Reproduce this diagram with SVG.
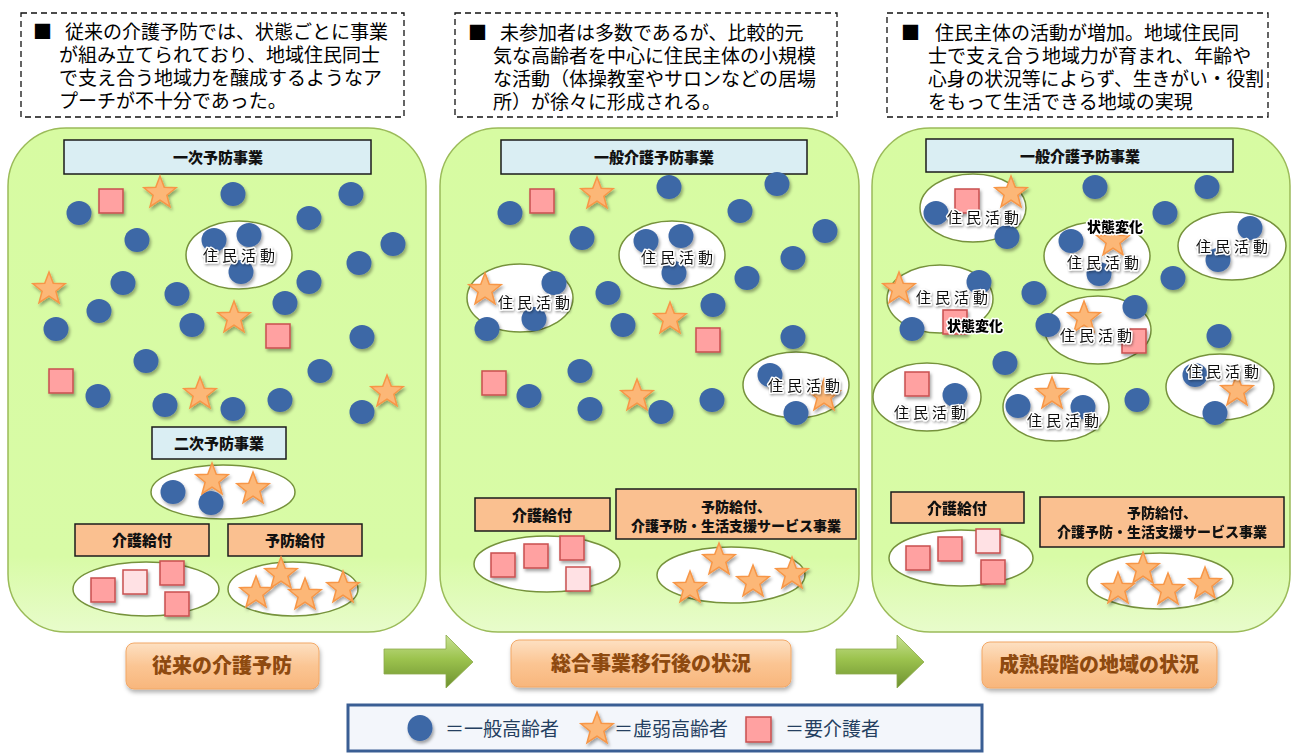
<svg xmlns="http://www.w3.org/2000/svg" xmlns:xlink="http://www.w3.org/1999/xlink" width="1294" height="753" viewBox="0 0 1294 753">
<style>
text{font-family:"Liberation Sans","Noto Sans CJK JP",sans-serif}
.pn{fill:url(#gp);stroke:#9BBB59;stroke-width:1.5}
.tb{fill:#fff;stroke:#111;stroke-width:1.3;stroke-dasharray:6 4}
.tt{font-size:19px;fill:#000}
.bx{font-family:"Noto Sans CJK JP",sans-serif;font-size:19px;fill:#000}
.hd{fill:#DAEEF3;stroke:#1b1b1b;stroke-width:1.5}
.ob{fill:#FAC090;stroke:#1b1b1b;stroke-width:1.5}
.ht{font-weight:900;font-size:15px;text-anchor:middle;dominant-baseline:central;fill:#111}
.ht2{font-weight:900;font-size:14px;text-anchor:middle;dominant-baseline:central;fill:#111}
.el{fill:#fff;stroke:#76923C;stroke-width:1.5}
.rt{font-size:15px;letter-spacing:4px;text-anchor:middle;dominant-baseline:central;fill:#111;stroke:#fff;stroke-width:3;stroke-linejoin:round;paint-order:stroke;filter:url(#tsh)}
.sc{font-size:14px;font-weight:900;text-anchor:middle;dominant-baseline:central;fill:#000;stroke:#fff;stroke-width:3;stroke-linejoin:round;paint-order:stroke}
.sh{filter:url(#ds)}
.lb{fill:url(#go);stroke:#F2A867;stroke-width:1;filter:url(#ds2)}
.lt{font-size:20px;font-weight:900;text-anchor:middle;dominant-baseline:central;fill:#8E4A10}
.ar{fill:url(#ga);stroke:#8DAA4C;stroke-width:0.8}
.lg{font-size:19px;fill:#243F60;dominant-baseline:central}
</style>
<defs>
<linearGradient id="gp" x1="0" y1="0" x2="0" y2="1">
<stop offset="0" stop-color="#D7FBA2"/><stop offset="0.85" stop-color="#D8FBA6"/><stop offset="1" stop-color="#E8FCCB"/>
</linearGradient>
<linearGradient id="go" x1="0" y1="0" x2="0" y2="1">
<stop offset="0" stop-color="#FDE0C2"/><stop offset="0.5" stop-color="#FBC593"/><stop offset="1" stop-color="#F8B67C"/>
</linearGradient>
<linearGradient id="ga" x1="0" y1="0" x2="0" y2="1">
<stop offset="0" stop-color="#C8E294"/><stop offset="0.45" stop-color="#9CC34E"/><stop offset="1" stop-color="#6E9130"/>
</linearGradient>
<filter id="ds" x="-30%" y="-30%" width="170%" height="170%">
<feDropShadow dx="1.5" dy="2.5" stdDeviation="1.5" flood-color="#000" flood-opacity="0.35"/>
</filter>
<filter id="ds2" x="-10%" y="-20%" width="120%" height="150%">
<feDropShadow dx="1" dy="3" stdDeviation="2" flood-color="#000" flood-opacity="0.3"/>
</filter>
<filter id="tsh" x="-10%" y="-30%" width="130%" height="170%">
<feDropShadow dx="1" dy="1.5" stdDeviation="1" flood-color="#000" flood-opacity="0.35"/>
</filter>
<ellipse id="c" cx="0" cy="0" rx="12.5" ry="12" fill="#3D67A6"/>
<path id="s" d="M0,-17 L4.25,-5.84 L16.17,-5.25 L6.87,2.23 L9.99,13.75 L0,7.22 L-9.99,13.75 L-6.87,2.23 L-16.17,-5.25 L-4.25,-5.84 Z" fill="#FCB777" stroke="#F79646" stroke-width="1.5" stroke-linejoin="miter"/>
<rect id="q" x="-12" y="-12" width="24" height="24" fill="#FFA1A1" stroke="#C9504F" stroke-width="1.5"/>
<rect id="ql" x="-12" y="-12" width="24" height="24" fill="#FFE1E4" stroke="#C9504F" stroke-width="1.5"/>
</defs>

<!-- top text boxes -->
<g id="note1">
<rect class="tb" x="21" y="13" width="383" height="104"/>
<text class="bx" x="33" y="39">■</text>
<text class="tt" x="65" y="39">従来の介護予防では、状態ごとに事業</text>
<text class="tt" x="59" y="62">が組み立てられており、地域住民同士</text>
<text class="tt" x="59" y="85">で支え合う地域力を醸成するようなア</text>
<text class="tt" x="59" y="108">プーチが不十分であった。</text>
</g>
<g id="note2">
<rect class="tb" x="455" y="13" width="382" height="104"/>
<text class="bx" x="468" y="40">■</text>
<text class="tt" x="500" y="40">未参加者は多数であるが、比較的元</text>
<text class="tt" x="493" y="63">気な高齢者を中心に住民主体の小規模</text>
<text class="tt" x="493" y="86">な活動（体操教室やサロンなどの居場</text>
<text class="tt" x="493" y="109">所）が徐々に形成される。</text>
</g>
<g id="note3">
<rect class="tb" x="887" y="13" width="381" height="104"/>
<text class="bx" x="901" y="40">■</text>
<text class="tt" x="935" y="40">住民主体の活動が増加。地域住民同</text>
<text class="tt" x="928" y="63">士で支え合う地域力が育まれ、年齢や</text>
<text class="tt" x="928" y="86" textLength="336" lengthAdjust="spacingAndGlyphs">心身の状況等によらず、生きがい・役割</text>
<text class="tt" x="928" y="109">をもって生活できる地域の実現</text>
</g>

<!-- panel 1 -->
<g id="panel1">
<rect class="pn" x="8" y="128" width="418" height="504" rx="58" ry="58"/>
<rect class="hd" x="64" y="140" width="307" height="34"/>
<text class="ht" x="218" y="157">一次予防事業</text>
<ellipse class="el" cx="239" cy="255" rx="53" ry="34"/>
<g class="sh">
<use href="#c" x="79" y="213"/><use href="#c" x="233" y="194"/><use href="#c" x="351" y="194"/><use href="#c" x="309" y="218"/>
<use href="#c" x="137" y="240"/><use href="#c" x="393" y="244"/><use href="#c" x="359" y="263"/><use href="#c" x="123" y="283"/>
<use href="#c" x="309" y="282"/><use href="#c" x="177" y="294"/><use href="#c" x="99" y="311"/><use href="#c" x="285" y="303"/>
<use href="#c" x="56" y="329"/><use href="#c" x="192" y="325"/><use href="#c" x="362" y="337"/><use href="#c" x="146" y="361"/>
<use href="#c" x="320" y="371"/><use href="#c" x="98" y="396"/><use href="#c" x="165" y="405"/><use href="#c" x="233" y="409"/>
<use href="#c" x="280" y="400"/><use href="#c" x="362" y="412"/>
<use href="#c" x="214" y="240"/><use href="#c" x="249" y="235"/><use href="#c" x="241" y="272"/>
<use href="#q" x="111" y="201"/><use href="#q" x="278" y="336"/><use href="#q" x="61" y="381"/>
<use href="#s" x="160" y="193"/><use href="#s" x="49" y="289"/><use href="#s" x="234" y="318"/><use href="#s" x="200" y="394"/><use href="#s" x="387" y="392"/>
</g>
<text class="rt" x="241" y="255">住民活動</text>
<rect class="hd" x="152" y="427" width="134" height="32"/>
<text class="ht" x="219" y="443">二次予防事業</text>
<ellipse class="el" cx="223" cy="492" rx="72" ry="27"/>
<g class="sh">
<use href="#c" x="173" y="492"/><use href="#c" x="211" y="503"/>
<use href="#s" x="212" y="480"/><use href="#s" x="253" y="489"/>
</g>
<rect class="ob" x="75" y="524" width="134" height="32"/>
<text class="ht" x="142" y="540">介護給付</text>
<rect class="ob" x="228" y="524" width="134" height="32"/>
<text class="ht" x="295" y="540">予防給付</text>
<ellipse class="el" cx="146" cy="589" rx="73" ry="27"/>
<ellipse class="el" cx="293" cy="589" rx="65" ry="27"/>
<g class="sh">
<use href="#q" x="103" y="590"/><use href="#ql" x="135" y="582"/><use href="#q" x="172" y="573"/><use href="#q" x="177" y="604"/>
<use href="#s" x="281" y="574"/><use href="#s" x="256" y="593"/><use href="#s" x="305" y="595"/><use href="#s" x="343" y="588"/>
</g>
</g>

<!-- panel 2 -->
<g id="panel2">
<rect class="pn" x="440" y="128" width="419" height="504" rx="58" ry="58"/>
<rect class="hd" x="501" y="140" width="306" height="34"/>
<text class="ht" x="654" y="157">一般介護予防事業</text>
<ellipse class="el" cx="672" cy="255" rx="53" ry="34"/>
<ellipse class="el" cx="520" cy="298" rx="53" ry="34"/>
<ellipse class="el" cx="796" cy="385" rx="53" ry="33"/>
<g class="sh">
<use href="#c" x="510" y="213"/><use href="#c" x="669" y="187"/><use href="#c" x="777" y="184"/><use href="#c" x="740" y="211"/>
<use href="#c" x="582" y="238"/><use href="#c" x="825" y="231"/><use href="#c" x="793" y="258"/><use href="#c" x="747" y="278"/>
<use href="#c" x="608" y="293"/><use href="#c" x="713" y="305"/><use href="#c" x="487" y="329"/><use href="#c" x="623" y="325"/>
<use href="#c" x="793" y="337"/><use href="#c" x="580" y="371"/><use href="#c" x="529" y="396"/><use href="#c" x="590" y="409"/>
<use href="#c" x="661" y="412"/><use href="#c" x="712" y="400"/>
<use href="#c" x="646" y="241"/><use href="#c" x="681" y="236"/><use href="#c" x="674" y="273"/>
<use href="#c" x="554" y="283"/><use href="#c" x="534" y="319"/>
<use href="#c" x="770" y="375"/><use href="#c" x="796" y="413"/>
<use href="#q" x="542" y="201"/><use href="#q" x="708" y="340"/><use href="#q" x="494" y="383"/>
<use href="#s" x="597" y="194"/><use href="#s" x="485" y="290"/><use href="#s" x="670" y="319"/><use href="#s" x="637" y="396"/><use href="#s" x="824" y="396"/>
</g>
<text class="rt" x="679" y="257">住民活動</text>
<text class="rt" x="536" y="302">住民活動</text>
<text class="rt" x="806" y="385">住民活動</text>
<rect class="ob" x="475" y="498" width="135" height="33"/>
<text class="ht" x="542" y="515">介護給付</text>
<rect class="ob" x="616" y="489" width="240" height="50"/>
<text class="ht2" x="736" y="507">予防給付、</text>
<text class="ht2" x="736" y="526">介護予防・生活支援サービス事業</text>
<ellipse class="el" cx="547" cy="564" rx="73" ry="28"/>
<ellipse class="el" cx="731" cy="575" rx="74" ry="28"/>
<g class="sh">
<use href="#q" x="503" y="565"/><use href="#q" x="536" y="556"/><use href="#q" x="572" y="548"/><use href="#ql" x="578" y="579"/>
<use href="#s" x="719" y="560"/><use href="#s" x="690" y="588"/><use href="#s" x="753" y="582"/><use href="#s" x="792" y="574"/>
</g>
</g>

<!-- panel 3 -->
<g id="panel3">
<rect class="pn" x="872" y="128" width="418" height="504" rx="58" ry="58"/>
<rect class="hd" x="926" y="139" width="307" height="33"/>
<text class="ht" x="1080" y="156">一般介護予防事業</text>
<ellipse class="el" cx="973" cy="208" rx="53" ry="34"/>
<ellipse class="el" cx="1097" cy="256" rx="53" ry="34"/>
<ellipse class="el" cx="1232" cy="246" rx="54" ry="34"/>
<ellipse class="el" cx="940" cy="299" rx="53" ry="34"/>
<ellipse class="el" cx="1098" cy="330" rx="53" ry="34"/>
<ellipse class="el" cx="927" cy="397" rx="54" ry="34"/>
<ellipse class="el" cx="1056" cy="407" rx="53" ry="34"/>
<ellipse class="el" cx="1220" cy="387" rx="54" ry="33"/>
<g class="sh">
<use href="#c" x="1095" y="187"/><use href="#c" x="1207" y="187"/><use href="#c" x="1165" y="213"/><use href="#c" x="1007" y="237"/>
<use href="#c" x="1173" y="278"/><use href="#c" x="1034" y="293"/><use href="#c" x="912" y="329"/><use href="#c" x="1048" y="325"/>
<use href="#c" x="1135" y="307"/><use href="#c" x="1219" y="336"/><use href="#c" x="1005" y="363"/><use href="#c" x="1137" y="400"/>
<use href="#c" x="936" y="213"/><use href="#c" x="1071" y="241"/><use href="#c" x="1099" y="274"/><use href="#c" x="1250" y="228"/>
<use href="#c" x="1218" y="260"/><use href="#c" x="979" y="282"/><use href="#c" x="955" y="395"/><use href="#c" x="1018" y="406"/>
<use href="#c" x="1083" y="407"/><use href="#c" x="1195" y="375"/><use href="#c" x="1215" y="413"/>
<use href="#q" x="967" y="201"/><use href="#q" x="955" y="322"/><use href="#q" x="1134" y="341"/><use href="#q" x="917" y="384"/>
<use href="#s" x="1011" y="193"/><use href="#s" x="1113" y="241"/><use href="#s" x="899" y="289"/><use href="#s" x="1084" y="318"/><use href="#s" x="1052" y="394"/><use href="#s" x="1237" y="391"/>
</g>
<text class="rt" x="985" y="217">住民活動</text>
<text class="rt" x="1105" y="262">住民活動</text>
<text class="rt" x="1234" y="246">住民活動</text>
<text class="rt" x="954" y="297">住民活動</text>
<text class="rt" x="1098" y="335">住民活動</text>
<text class="rt" x="932" y="412">住民活動</text>
<text class="rt" x="1065" y="420">住民活動</text>
<text class="rt" x="1225" y="371">住民活動</text>
<text class="sc" x="1115" y="227">状態変化</text>
<text class="sc" x="975" y="326">状態変化</text>
<rect class="ob" x="891" y="492" width="133" height="31"/>
<text class="ht" x="957" y="508">介護給付</text>
<rect class="ob" x="1040" y="497" width="244" height="50"/>
<text class="ht2" x="1162" y="513">予防給付、</text>
<text class="ht2" x="1162" y="532">介護予防・生活支援サービス事業</text>
<ellipse class="el" cx="961" cy="558" rx="72" ry="28"/>
<ellipse class="el" cx="1160" cy="581" rx="73" ry="28"/>
<g class="sh">
<use href="#q" x="918" y="558"/><use href="#q" x="950" y="549"/><use href="#ql" x="988" y="541"/><use href="#q" x="993" y="572"/>
<use href="#s" x="1143" y="569"/><use href="#s" x="1118" y="589"/><use href="#s" x="1168" y="590"/><use href="#s" x="1205" y="584"/>
</g>
</g>

<!-- stage labels -->
<g id="label1">
<rect class="lb" x="126" y="643" width="193" height="46" rx="8"/>
<text class="lt" x="222" y="666">従来の介護予防</text>
</g>
<g id="label2">
<rect class="lb" x="511" y="640" width="280" height="47" rx="8"/>
<text class="lt" x="651" y="664">総合事業移行後の状況</text>
</g>
<g id="label3">
<rect class="lb" x="982" y="642" width="235" height="46" rx="8"/>
<text class="lt" x="1099" y="665">成熟段階の地域の状況</text>
</g>

<!-- connectors -->
<g id="connectors">
<path class="ar" d="M384,649 L446,649 L446,635 L473,662 L446,688 L446,674 L384,674 Z"/>
<path class="ar" d="M836,649 L897,649 L897,635 L924,662 L897,688 L897,674 L836,674 Z"/>
</g>

<!-- legend -->
<g id="legend">
<rect x="348" y="705" width="634" height="46" fill="#F3F6FB" stroke="#3A5E94" stroke-width="3"/>
<g class="sh">
<ellipse cx="420" cy="728" rx="12.5" ry="13" fill="#3D67A6"/>
<use href="#s" x="597" y="729"/>
<rect x="746" y="717" width="25" height="25" fill="#FFA1A1" stroke="#C9504F" stroke-width="1.5"/>
</g>
<text class="lg" x="445" y="729">＝一般高齢者</text>
<text class="lg" x="614" y="729">＝虚弱高齢者</text>
<text class="lg" x="785" y="729">＝要介護者</text>
</g>
</svg>
